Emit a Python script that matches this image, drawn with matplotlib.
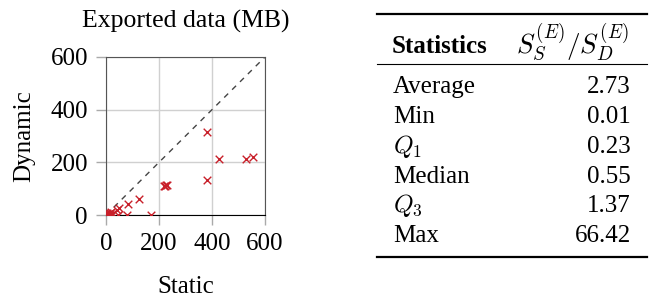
import matplotlib.pyplot as plt
from matplotlib.lines import Line2D

plt.rcParams['font.family'] = ['Liberation Serif', 'DejaVu Serif']
plt.rcParams['mathtext.fontset'] = 'cm'

# exported data in MB
static = [380, 428, 527, 553, 380, 220, 227, 232, 223, 125, 82, 48, 41, 79, 169, 45,
          2, 5, 8, 12, 16, 20, 3, 10, 6, 14, 1, 22]
dynamic = [314, 211, 211, 220, 134, 109, 115, 113, 110, 60, 40, 25, 19, 0, 0, 0,
           2, 6, 0, 4, 8, 10, 0, 3, 5, 1, 7, 2]

stat_names = ['Average', 'Min', r'$Q_1$', 'Median', r'$Q_3$', 'Max']
stat_values = ['2.73', '0.01', '0.23', '0.55', '1.37', '66.42']

W, H = 655, 299
fig = plt.figure(figsize=(W / 100, H / 100), dpi=100)
ax = fig.add_axes([106 / W, 1 - 215 / H, 159 / W, 158 / H])

ax.plot([0, 600], [0, 600], color='#444444', lw=1, linestyle=(0, (4, 4)), zorder=2)
ax.scatter(static, dynamic, marker='x', color='#c8202a', s=30, linewidths=1, zorder=3)

ax.set_xlim(0, 600)
ax.set_ylim(0, 600)
ax.set_xticks([0, 200, 400, 600])
ax.set_yticks([0, 200, 400, 600])
ax.grid(True, color='#d0d0d0', lw=1)
ax.set_axisbelow(True)
ax.tick_params(direction='out', length=7, width=1, color='#aaaaaa', pad=6, labelsize=18)
for side in ['left', 'top', 'right']:
    ax.spines[side].set_color('#555555')
ax.spines['bottom'].set_color('black')

ax.set_title('Exported data (MB)', fontsize=18.5, pad=21)
ax.set_xlabel('Static', fontsize=18, labelpad=15)
ax.set_ylabel('Dynamic', fontsize=18, labelpad=11)

# table on the right
def fy(py):
    return 1 - py / H

for y, lw in [(14, 1.6), (64, 0.8), (257, 1.6)]:
    fig.add_artist(Line2D([377 / W, 647 / W], [fy(y), fy(y)], color='black', lw=lw))

fig.text(392 / W, fy(53), 'Statistics', fontsize=18, fontweight='bold', va='baseline')
fig.text(629 / W, fy(53), r'$S_S^{(E)}/S_D^{(E)}$', fontsize=19.5, ha='right', va='baseline')

row_base = [93, 123, 153, 183, 212, 242]
for name, val, yb in zip(stat_names, stat_values, row_base):
    fig.text(393 / W, fy(yb), name, fontsize=18, va='baseline')
    fig.text(631 / W, fy(yb), val, fontsize=18, ha='right', va='baseline')

fig.savefig('out.png', dpi=100)
